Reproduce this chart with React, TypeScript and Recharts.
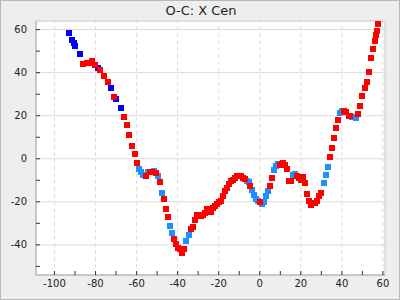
import React from "react";
import {
  ScatterChart,
  Scatter,
  XAxis,
  YAxis,
  CartesianGrid,
  ReferenceLine,
} from "recharts";

// O-C values, one pair of arrays per colour
const blueX = [-92.7, -91.7, -90.7, -89.8, -87.8, -79.0, -72.7, -69.8, -67.8];
const blueY = [58.6, 55.3, 54.0, 52.6, 48.8, 42.3, 33.0, 27.9, 23.7];

const lightX = [
  -59.0, -58.0, -57.1, -54.6, -51.7, -49.8, -47.8, -43.9, -42.9, -36.1, -34.6,
  -6.3, -5.4, -3.9, -2.9, -2.0, -1.0, 1.0, 2.0, 2.9, 3.9, 6.8, 7.8, 8.8, 16.1,
  17.1, 31.2, 32.2, 33.2, 38.9, 39.9, 45.0, 46.7,
];
const lightY = [
  -4.7, -6.0, -7.4, -6.0, -5.6, -7.9, -15.8, -31.2, -34.4, -38.1, -35.3, -10.2,
  -11.0, -14.4, -16.7, -18.6, -19.5, -20.9, -20.0, -17.2, -14.9, -5.1, -3.3,
  -2.3, -7.4, -7.0, -11.2, -7.4, -3.7, 21.4, 22.0, 19.5, 18.9,
];

const redX = [
  -85.9, -84.4, -82.9, -81.5, -80.5, -78.0, -76.1, -74.1, -71.2, -66.3, -64.9,
  -63.9, -62.4, -61.0, -60.0, -55.6, -53.7, -52.7, -50.7, -48.8, -46.8, -45.9,
  -44.9, -41.9, -41.0, -40.0, -39.0, -38.0, -37.1, -33.7, -32.7, -31.7, -30.7,
  -29.8, -28.8, -27.8, -26.8, -25.9, -24.9, -23.9, -22.9, -22.0, -21.0, -20.0,
  -19.0, -18.0, -17.1, -16.1, -15.1, -14.1, -13.2, -12.2, -11.2, -10.2, -9.3,
  -8.3, -7.3, -4.9, 0.0, 4.9, 5.9, 9.8, 10.7, 11.2, 12.2, 13.2, 14.1, 15.1,
  18.0, 19.0, 20.0, 21.0, 22.0, 22.9, 23.9, 24.9, 25.9, 26.8, 27.8, 28.8, 29.8,
  34.1, 35.1, 36.1, 37.1, 38.0, 40.9, 42.0, 43.3, 43.9, 47.7, 48.8, 49.8, 51.2,
  52.2, 53.2, 54.1, 55.1, 56.1, 56.6, 57.1, 57.6,
];
const redY = [
  44.2, 44.7, 44.3, 45.4, 43.7, 41.1, 38.6, 35.8, 28.8, 19.5, 15.8, 11.2, 6.0,
  2.3, -1.9, -7.9, -6.0, -6.0, -6.5, -10.7, -18.6, -23.3, -27.0, -37.2, -39.5,
  -41.4, -41.9, -43.7, -41.9, -32.6, -31.6, -28.4, -26.0, -26.5, -26.5, -26.0,
  -25.1, -23.3, -24.2, -24.7, -22.8, -21.9, -20.9, -20.0, -19.5, -17.2, -14.9,
  -13.5, -11.6, -10.2, -9.8, -8.8, -7.9, -7.9, -7.9, -8.8, -9.3, -12.6, -20.0,
  -12.6, -8.8, -2.8, -2.3, -1.9, -2.8, -4.7, -10.2, -10.2, -7.9, -8.8, -9.8,
  -8.4, -11.2, -16.3, -19.5, -21.4, -20.5, -20.5, -19.5, -17.2, -15.8, 0.9, 5.1,
  9.8, 14.4, 18.0, 22.2, 21.5, 20.0, 20.0, 20.8, 24.7, 29.3, 33.0, 35.8, 40.5,
  47.0, 51.2, 54.9, 57.7, 59.5, 62.8,
];

const xTicks = [-100, -90, -80, -70, -60, -50, -40, -30, -20, -10, 0, 10, 20, 30, 40, 50, 60];
const yTicks = [-50, -40, -30, -20, -10, 0, 10, 20, 30, 40, 50, 60];
const xGrid = [-100, -80, -60, -40, -20, 0, 20, 40, 60];
const yGrid = [-40, -20, 0, 20, 40, 60];

const zip = (xs: number[], ys: number[]) => xs.map((x, i) => ({ x, y: ys[i] }));

const FONT = "'DejaVu Sans', sans-serif";

function XTick({ x, y, payload }: any) {
  const v = payload.value;
  return (
    <g>
      <line x1={x} x2={x} y1={y} y2={y - 4} stroke="#333" />
      {v % 20 === 0 && (
        <text x={x} y={y + 12} textAnchor="middle" fontSize={10} fontFamily={FONT} fill="#222">
          {v}
        </text>
      )}
    </g>
  );
}

function YTick({ x, y, payload }: any) {
  const v = payload.value;
  return (
    <g>
      <line x1={x} x2={x + 4} y1={y} y2={y} stroke="#333" />
      {v % 20 === 0 && (
        <text x={x - 9} y={y + 3.5} textAnchor="end" fontSize={10} fontFamily={FONT} fill="#222">
          {v}
        </text>
      )}
    </g>
  );
}

function Square({ cx, cy, fill }: any) {
  return <rect x={Math.round(cx - 3)} y={Math.round(cy - 3)} width={6} height={6} fill={fill} />;
}

export default function App() {
  return (
    <div
      style={{
        position: "absolute",
        left: 0,
        top: 0,
        width: 400,
        height: 300,
        background: "#eeeeee",
        border: "1px solid #b8b8b8",
        boxSizing: "border-box",
        fontFamily: FONT,
      }}
    >
      <div
        style={{
          position: "absolute",
          top: 2,
          left: 0,
          width: 400,
          textAlign: "center",
          fontSize: 13,
          lineHeight: "16px",
          color: "#222",
        }}
      >
        O-C: X Cen
      </div>
      <div style={{ position: "absolute", left: -1, top: -1 }}>
        <ScatterChart width={400} height={300} margin={{ top: 21, right: 15, bottom: 0, left: 0 }}>
          <CartesianGrid fill="#fff" horizontal={false} vertical={false} />
          {xGrid.map((v) => (
            <ReferenceLine key={`gx${v}`} x={v} stroke="#dcdcdc" strokeDasharray="4 3" />
          ))}
          {yGrid.map((v) => (
            <ReferenceLine key={`gy${v}`} y={v} stroke="#dcdcdc" />
          ))}
          <ReferenceLine y={64} stroke="#c8c8c8" />
          <ReferenceLine x={61} stroke="#c8c8c8" />
          <XAxis
            type="number"
            dataKey="x"
            domain={[-109, 61]}
            ticks={xTicks}
            interval={0}
            allowDataOverflow
            height={25}
            tickSize={0}
            tickMargin={0}
            tickLine={false}
            axisLine={{ stroke: "#999" }}
            tick={<XTick />}
          />
          <YAxis
            type="number"
            dataKey="y"
            domain={[-54, 64]}
            ticks={yTicks}
            interval={0}
            allowDataOverflow
            width={36}
            tickSize={0}
            tickMargin={0}
            tickLine={false}
            axisLine={{ stroke: "#999" }}
            tick={<YTick />}
          />
          <Scatter data={zip(blueX, blueY)} fill="#0000ff" shape={<Square />} isAnimationActive={false} />
          <Scatter data={zip(lightX, lightY)} fill="#1e90ff" shape={<Square />} isAnimationActive={false} />
          <Scatter data={zip(redX, redY)} fill="#ff0000" shape={<Square />} isAnimationActive={false} />
        </ScatterChart>
      </div>
    </div>
  );
}
